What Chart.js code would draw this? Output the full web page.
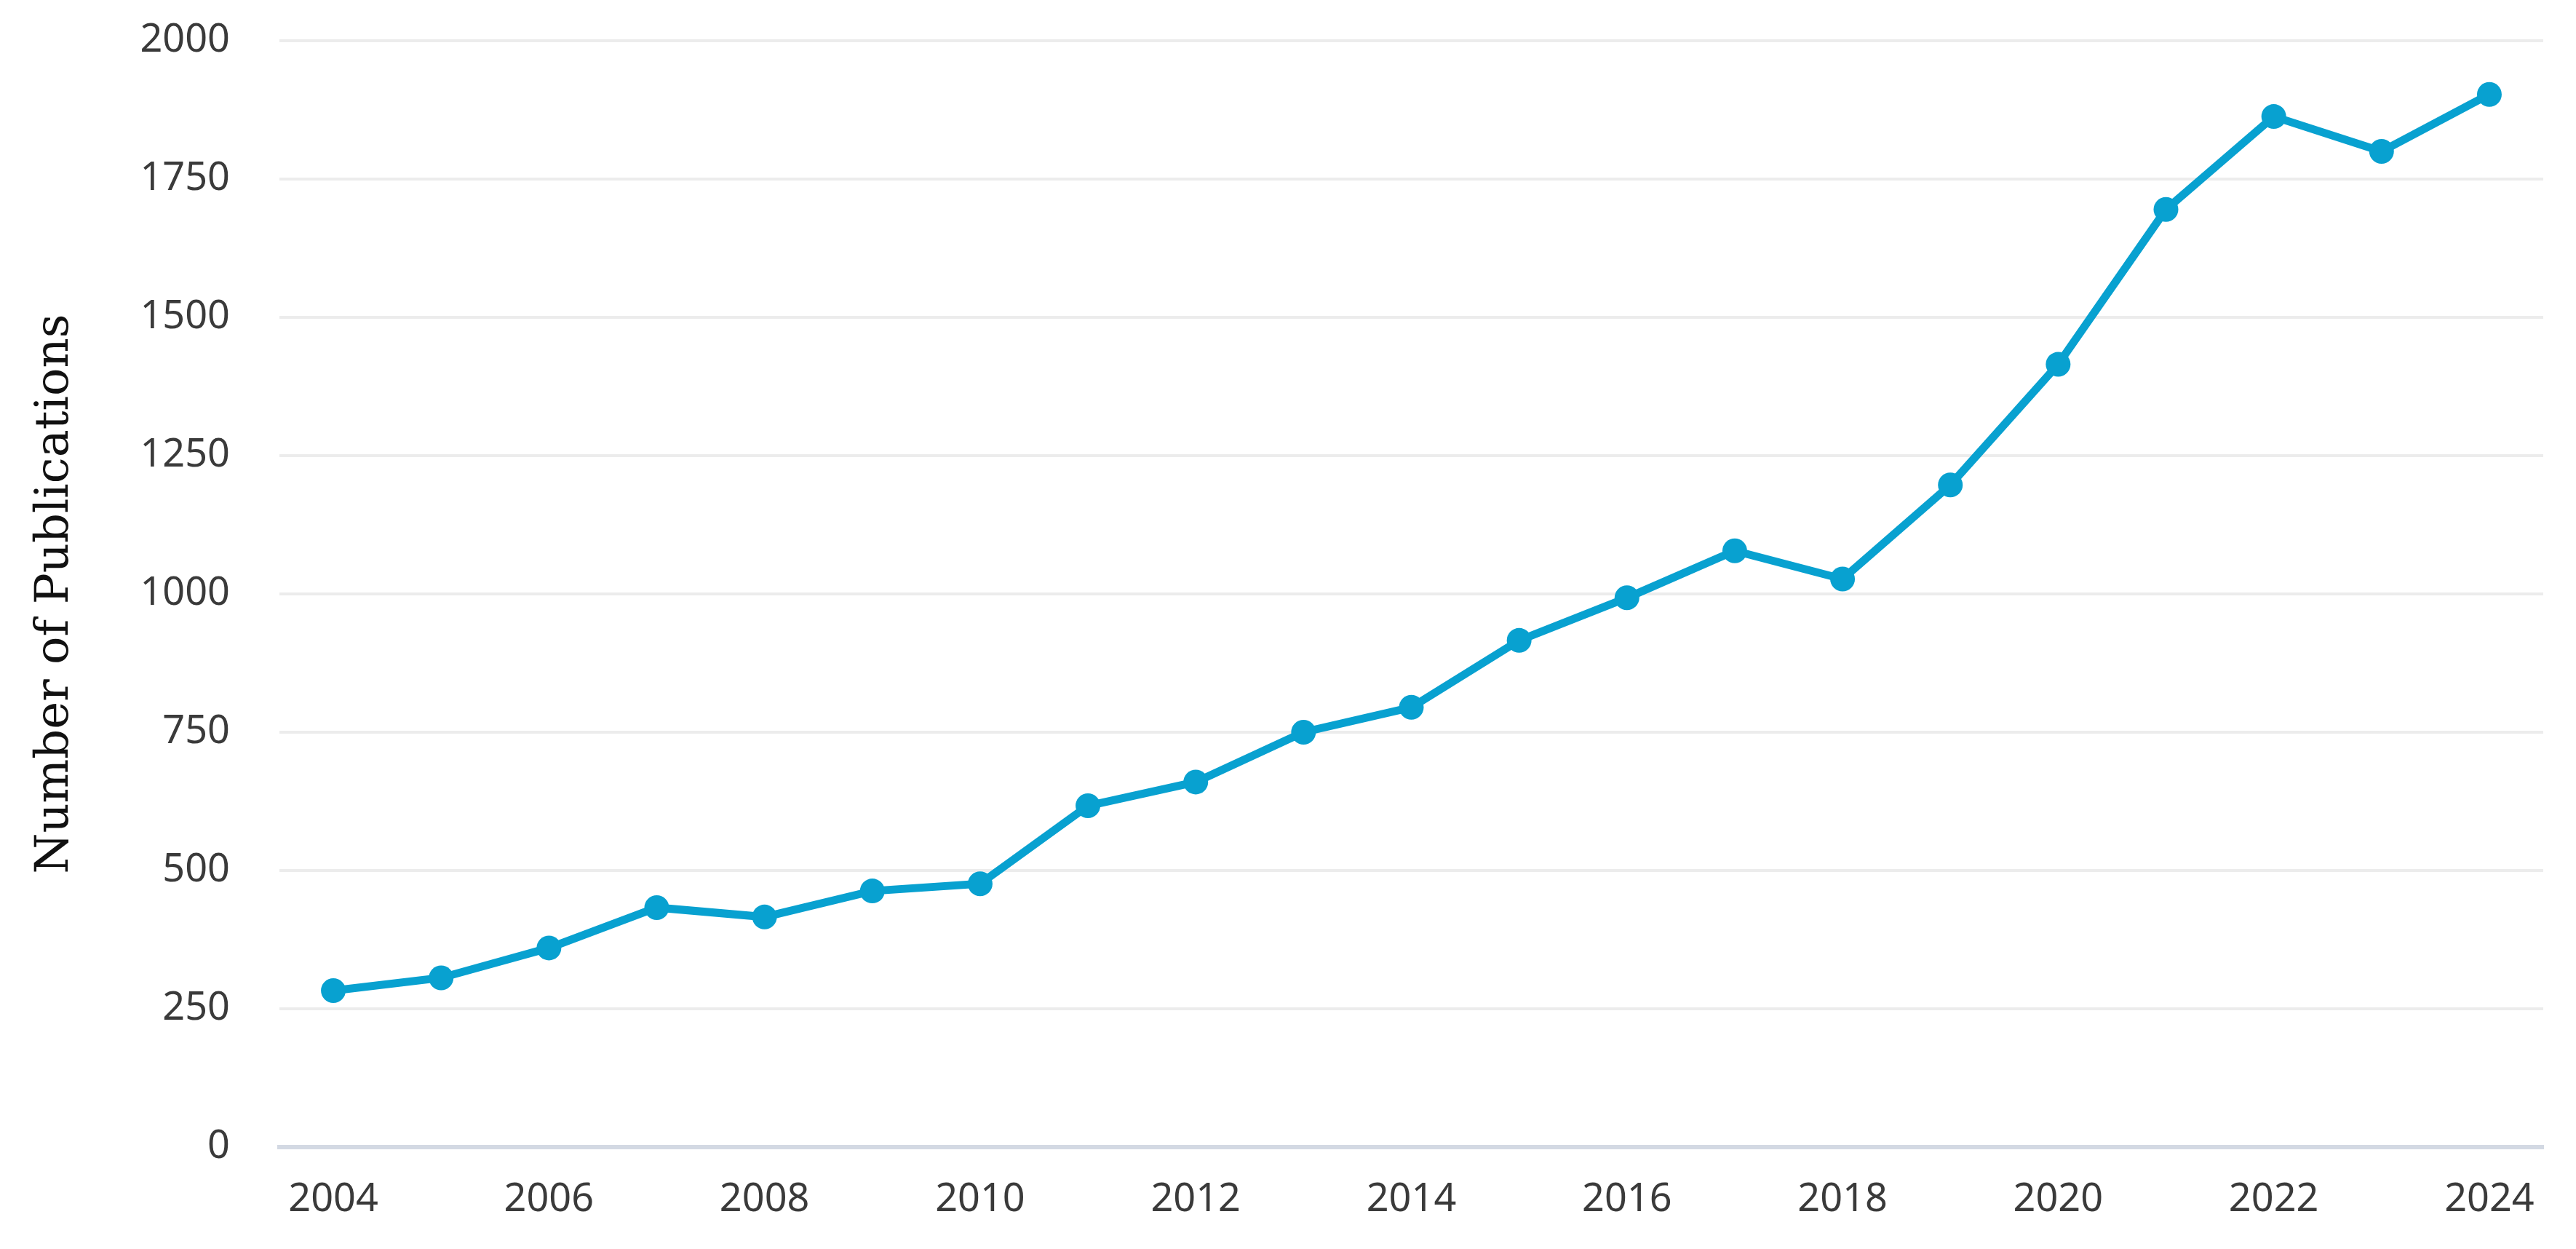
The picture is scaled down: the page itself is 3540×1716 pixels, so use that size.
<!DOCTYPE html>
<html>
<head>
<meta charset="utf-8">
<script src="https://cdn.jsdelivr.net/npm/chart.js@4/dist/chart.umd.min.js"></script>
<style>
  html, body { margin: 0; padding: 0; background: #ffffff; }
  #wrap { width: 3540px; height: 1716px; }
</style>
</head>
<body>
<div id="wrap"><canvas id="pubChart" width="3540" height="1716"></canvas></div>
<script>
var years = ["2004", "2005", "2006", "2007", "2008", "2009", "2010", "2011", "2012", "2013", "2014",
             "2015", "2016", "2017", "2018", "2019", "2020", "2021", "2022", "2023", "2024"];
var publications = [283, 306, 360, 433, 416, 463, 476, 617, 660, 750, 795,
                    916, 993, 1078, 1027, 1197, 1415, 1695, 1863, 1800, 1903];
var yTicks = [0, 250, 500, 750, 1000, 1250, 1500, 1750, 2000];

var lineColor = 'rgb(8,161,208)';

var config = {
  type: 'line',
  data: {
    labels: years,
    datasets: [{
      label: 'Number of Publications',
      data: publications,
      borderColor: lineColor,
      backgroundColor: lineColor,
      borderWidth: 11,
      pointRadius: 17,
      pointBackgroundColor: lineColor,
      pointBorderWidth: 0,
      tension: 0,
      fill: false
    }]
  },
  options: {
    responsive: false,
    animation: false,
    layout: { padding: { top: 56, right: 45, bottom: 0, left: 0 } },
    plugins: {
      legend: { display: false },
      tooltip: { enabled: false }
    },
    scales: {
      x: {
        offset: true,
        grid: { display: false, drawTicks: false },
        border: { display: true, color: '#d3d9e3', width: 6 },
        ticks: {
          autoSkip: false,
          maxRotation: 0,
          padding: 40,
          color: '#3a3a3a',
          font: { family: '"Noto Sans"', size: 54 },
          callback: function (value, index) {
            return index % 2 === 0 ? years[index] : '';
          }
        },
        afterFit: function (scale) { scale.height = 140; }
      },
      y: {
        min: yTicks[0],
        max: yTicks[yTicks.length - 1],
        grid: { color: '#ececec', lineWidth: 4, drawTicks: false },
        border: { display: false },
        afterBuildTicks: function (scale) {
          scale.ticks = yTicks.map(function (v) { return { value: v }; });
        },
        ticks: {
          padding: 68,
          color: '#3a3a3a',
          font: { family: '"Noto Sans"', size: 54 },
          callback: function (value) { return String(value); }
        },
        title: {
          display: true,
          text: 'Number of Publications',
          color: '#111111',
          padding: { top: 38, bottom: 0 },
          font: { family: '"DejaVu Serif"', size: 64 }
        },
        afterFit: function (scale) {
          scale.width = 384;
          scale.paddingTop = 0;
          scale.paddingBottom = 0;
        }
      }
    }
  }
};

new Chart(document.getElementById('pubChart'), config);
</script>
</body>
</html>
